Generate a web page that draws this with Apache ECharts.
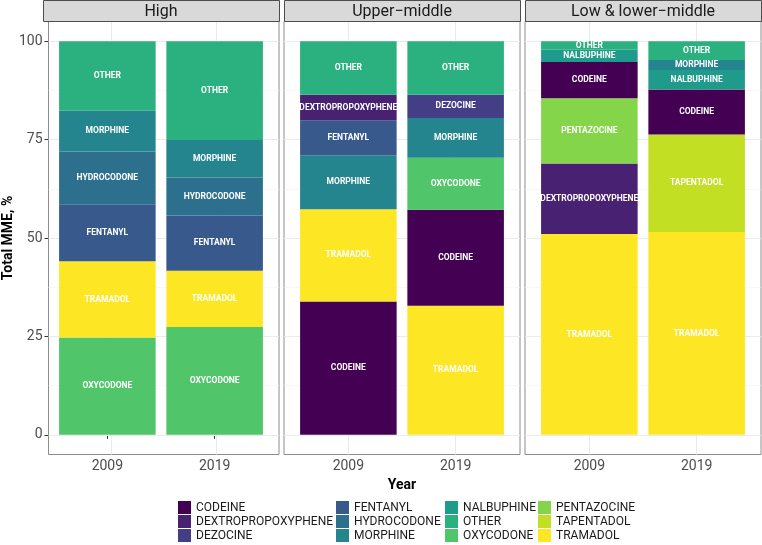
<!DOCTYPE html>
<html><head><meta charset="utf-8">
<script src="https://cdn.jsdelivr.net/npm/echarts@6/dist/echarts.min.js"></script>
<style>html,body{margin:0;padding:0;background:#fff}#c{width:762px;height:545px}</style>
</head><body><div id="c"></div>
<script>
// ---------- data ----------
const drugs = ['CODEINE','DEXTROPROPOXYPHENE','DEZOCINE','FENTANYL','HYDROCODONE','MORPHINE','NALBUPHINE','OTHER','OXYCODONE','PENTAZOCINE','TAPENTADOL','TRAMADOL'];
const panels = ['High','Upper\u2212middle','Low & lower\u2212middle'];
const years = ['2009','2019'];
const yTicks = [0, 25, 50, 75, 100];
const yMinor = [12.5, 37.5, 62.5, 87.5];

// stacks, bottom -> top
const high2009Drugs = ['OXYCODONE','TRAMADOL','FENTANYL','HYDROCODONE','MORPHINE','OTHER'];
const high2009Values = [24.7, 19.4, 14.5, 13.4, 10.3, 17.7];
const high2019Drugs = ['OXYCODONE','TRAMADOL','FENTANYL','HYDROCODONE','MORPHINE','OTHER'];
const high2019Values = [27.4, 14.3, 14.0, 9.7, 9.5, 25.1];
const upper2009Drugs = ['CODEINE','TRAMADOL','MORPHINE','FENTANYL','DEXTROPROPOXYPHENE','OTHER'];
const upper2009Values = [33.9, 23.4, 13.7, 8.9, 6.5, 13.6];
const upper2019Drugs = ['TRAMADOL','CODEINE','OXYCODONE','MORPHINE','DEZOCINE','OTHER'];
const upper2019Values = [32.8, 24.4, 13.2, 10.1, 5.9, 13.6];
const low2009Drugs = ['TRAMADOL','DEXTROPROPOXYPHENE','PENTAZOCINE','CODEINE','NALBUPHINE','OTHER'];
const low2009Values = [51.0, 17.9, 16.6, 9.2, 3.1, 2.2];
const low2019Drugs = ['TRAMADOL','TAPENTADOL','CODEINE','NALBUPHINE','MORPHINE','OTHER'];
const low2019Values = [51.5, 24.8, 11.4, 5.0, 2.5, 4.8];

// ---------- style ----------
const palette = ['#440154','#482173','#433E85','#38598C','#2D708E','#25858E','#1E9B8A','#2BB07F','#51C56A','#85D54A','#C2DF23','#FDE725'];
const FONT = 'Roboto';
const panelLeft = [43, 284, 525];
const panelWidth = 236;
const panelTop = 21.5;
const panelHeight = 433;
const stripH = 21;
const expand = 0.6;            // discrete-axis expansion (in category units)
const band = panelWidth / (2 * expand + 1);   // px per category step

const stacks = [
  [[high2009Drugs, high2009Values], [high2019Drugs, high2019Values]],
  [[upper2009Drugs, upper2009Values], [upper2019Drugs, upper2019Values]],
  [[low2009Drugs, low2009Values], [low2019Drugs, low2019Values]]
];

const grid = [], xAxis = [], yAxis = [], series = [], graphic = [];
const axisFont = {color: '#4d4d4d', fontSize: 14, fontFamily: FONT};
const titleFont = {fontFamily: FONT, fontWeight: 'bold', fontSize: 14, color: '#000'};

// panel grids (border, gridlines, y labels) : indices 0..2
panels.forEach((pname, p) => {
  grid.push({left: panelLeft[p], top: panelTop, width: panelWidth, height: panelHeight,
    show: true, borderColor: '#8c8c8c', borderWidth: 1, backgroundColor: 'transparent'});
  xAxis.push({type: 'value', gridIndex: p, min: 1 - expand, max: 2 + expand, show: false,
    splitLine: {show: false}});
  yAxis.push({type: 'value', gridIndex: p, min: -5, max: 105,
    name: p === 0 ? 'Total MME, %' : '', nameLocation: 'middle', nameGap: 22, nameRotate: 90,
    nameTextStyle: titleFont,
    axisLine: {show: false}, splitLine: {show: false},
    axisTick: {show: p === 0, customValues: yTicks, length: 4, lineStyle: {color: '#333', width: 1}},
    axisLabel: Object.assign({show: p === 0, customValues: yTicks, margin: 6}, axisFont)
  });
  const ml = [];
  yMinor.forEach(v => ml.push({yAxis: v, lineStyle: {color: '#f4f4f4', width: 0.7, type: 'solid'}}));
  yTicks.forEach(v => ml.push({yAxis: v, lineStyle: {color: '#ebebeb', width: 1, type: 'solid'}}));
  [1, 2].forEach(v => ml.push({xAxis: v, lineStyle: {color: '#ebebeb', width: 1, type: 'solid'}}));
  series.push({type: 'line', xAxisIndex: p, yAxisIndex: p, data: [], silent: true, z: 1,
    markLine: {silent: true, symbol: 'none', z: 1, animation: false,
      label: {show: false}, emphasis: {disabled: true}, data: ml}});

  // strip
  graphic.push({type: 'rect', silent: true, z: 10,
    shape: {x: panelLeft[p] + 0.5, y: 0.5, width: panelWidth, height: stripH},
    style: {fill: '#d9d9d9', stroke: '#4d4d4d', lineWidth: 1}});
  graphic.push({type: 'text', silent: true, z: 11,
    style: {text: pname, x: panelLeft[p] + panelWidth / 2, y: stripH / 2 + 1,
      align: 'center', verticalAlign: 'middle', textAlign: 'center', textVerticalAlign: 'middle',
      font: '16px ' + FONT, fill: '#1a1a1a'}});
});

// bar grids (category x) : indices 3..5
panels.forEach((pname, p) => {
  const gi = p + 3;
  grid.push({left: panelLeft[p] + (expand - 0.5) * band, top: panelTop, width: 2 * band, height: panelHeight,
    show: false});
  xAxis.push({type: 'category', gridIndex: gi, data: years,
    name: p === 1 ? 'Year' : '', nameLocation: 'middle', nameGap: 20, nameTextStyle: titleFont,
    axisLine: {show: false}, splitLine: {show: false},
    axisTick: {show: true, alignWithLabel: true, length: 4, lineStyle: {color: '#333', width: 1}},
    axisLabel: Object.assign({show: true, margin: 5}, axisFont)
  });
  yAxis.push({type: 'value', gridIndex: gi, min: -5, max: 105, show: false, splitLine: {show: false}});

  const nSlots = Math.max(stacks[p][0][0].length, stacks[p][1][0].length);
  for (let k = 0; k < nSlots; k++) {
    const data = years.map((yr, yi) => {
      const [ds, vs] = stacks[p][yi];
      if (k >= ds.length) return '-';
      return {name: ds[k], value: vs[k], itemStyle: {color: palette[drugs.indexOf(ds[k])]}};
    });
    series.push({type: 'bar', xAxisIndex: gi, yAxisIndex: gi, stack: 'panel' + p,
      barWidth: '90%', data: data, z: 2,
      label: {show: true, position: 'inside', formatter: '{b}', color: '#fff',
        fontSize: 8.5, fontWeight: 'bold', fontFamily: FONT},
      emphasis: {disabled: true}, silent: true, animation: false});
  }
});

// legend dummy series
drugs.forEach((d, i) => {
  series.push({type: 'scatter', name: d, data: [], xAxisIndex: 0, yAxisIndex: 0,
    itemStyle: {color: palette[i], opacity: 1}});
});

const legendCols = [drugs.slice(0, 3), drugs.slice(3, 6), drugs.slice(6, 9), drugs.slice(9, 12)];
const legendLeft = [178, 336, 445, 538];
const legend = legendCols.map((col, i) => ({
  data: col, orient: 'vertical', left: legendLeft[i], top: 501, padding: 0,
  itemWidth: 13, itemHeight: 13, itemGap: 1, icon: 'rect', selectedMode: false,
  itemStyle: {opacity: 1},
  textStyle: {fontFamily: FONT, fontSize: 12, color: '#1a1a1a', lineHeight: 13}
}));

const chart = echarts.init(document.getElementById('c'), null, {renderer: 'canvas'});
chart.setOption({animation: false, backgroundColor: '#fff', grid, xAxis, yAxis, series, legend, graphic});
</script></body></html>
